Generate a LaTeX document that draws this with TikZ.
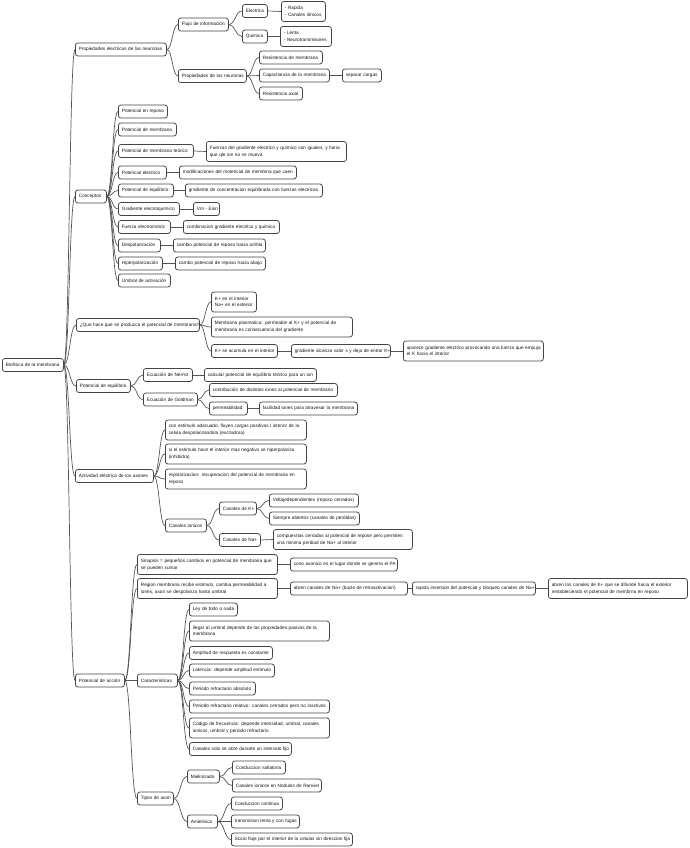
\documentclass[tikz,border=0pt]{standalone}
\usepackage{fontspec}
\setmainfont{Liberation Sans}
\usetikzlibrary{calc}
\definecolor{boxc}{HTML}{444444}
\definecolor{linec}{HTML}{555555}
\definecolor{txtc}{HTML}{151515}
\tikzset{
  box/.style={draw=boxc, line width=0.75pt, rounded corners=2.5pt, fill=white, text=txtc,
    inner xsep=3.5pt, inner ysep=0pt, minimum height=13pt, anchor=west, align=left,
    font=\fontsize{4.7}{6.6}\selectfont},
  sb/.style={box, text width=#1pt, execute at begin node={\leavevmode\hbox\bgroup}, execute at end node={\egroup}},
  tb/.style={box, minimum height=20pt, text width=#1pt},
  conn/.style={draw=linec, line width=0.7pt}
}
\newcommand\mmlink[2]{\draw[conn] let \p1=(#1.east), \p2=(#2.west) in (\p1) .. controls ({0.5*\x1+0.5*\x2},\y1) and ({0.5*\x1+0.5*\x2},\y2) .. (\p2);}
\newcommand\twol[2]{\mbox{#1}\\\mbox{#2}}
\begin{document}
\begin{tikzpicture}[x=1pt,y=-1pt]
\useasboundingbox[fill=white] (0,0) rectangle (690,848);
% root and level 1
\node[sb=54] (root) at (2,365) {Biofisica de la membrana};
\node[sb=84] (p1) at (75,49.5) {Propiedades electricas de las neuronas};
\node[sb=24] (c1) at (75,196.5) {Conceptos};
\node[sb=116] (q1) at (76,325) {¿Que hace que se produzca el potencial de membrana?};
\node[sb=47] (e1) at (76,386) {Potencial de equilibrio};
\node[sb=71] (a1) at (75,476) {Actividad eléctrica de los axones};
\node[sb=42] (pa) at (75,680.5) {Potencial de acción};
% propiedades
\node[sb=43] (flujo) at (178,24.5) {Flujo de información};
\node[sb=18] (elec) at (242,11) {Electrica};
\node[tb=37] (rap) at (281,11.5) {\twol{- Rapida}{- Canales iónicos}};
\node[sb=18] (quim) at (242,36.5) {Quimica};
\node[tb=44] (lenta) at (280,36.5) {\twol{- Lenta}{- Neurotransmisores}};
\node[sb=61] (pdn) at (178,76) {Propiedades de las neuronas};
\node[sb=56] (resm) at (259,57.5) {Resistencia de membrana};
\node[sb=63] (cap) at (259,75.5) {Capacitancia de la membrana};
\node[sb=32] (sep) at (342,75.5) {separar cargas};
\node[sb=36] (resa) at (259,93.5) {Resistencia axial};
% conceptos
\node[sb=42] (k1) at (118,111.5) {Potencial en reposo};
\node[sb=51] (k2) at (118,129.5) {Potencial de membrana};
\node[sb=68] (k3) at (118,151) {Potencial de membrana teórico};
\node[tb=133] (k3a) at (206,151.5) {\twol{Fuerzas del gradiente electrico y químico son iguales, y haria}{que qle ion no se mueva}};
\node[sb=41] (k4) at (118,172.5) {Potencial electrico};
\node[sb=110] (k4a) at (179,172.5) {modificaciones del motencial de membrna que caen};
\node[sb=48] (k5) at (118,190.5) {Potencial de equilibrio};
\node[sb=130] (k5a) at (185,190.5) {gradiente de concentracion equilibrada con fuerzas electricas};
\node[sb=54] (k6) at (118,209) {Gradiente electroquímico};
\node[sb=19] (k6a) at (193,209) {Vm - Eion};
\node[sb=45] (k7) at (118,227) {Fuerza electromotriz};
\node[sb=89] (k7a) at (183,227) {combinacion gradiente electrico y quimico};
\node[sb=35] (k8) at (118,245.5) {Despolarización};
\node[sb=85] (k8a) at (173,245.5) {cambio potencial de reposo hacia arribla};
\node[sb=37] (k9) at (118,263.5) {Hiperpolarización};
\node[sb=83] (k9a) at (175,263.5) {cambo potencial de reposo hacia abajo};
\node[sb=45] (k10) at (118,280.5) {Umbral de activación};
% que hace
\node[tb=38] (q2) at (211,302) {\twol{K+ en el interior}{Na+ en el exterior}};
\node[tb=134] (q3) at (211,327) {\twol{Membrana plasmatica: permeable al K+ y el potencial de}{membrana es consecuencia del gradiente}};
\node[sb=59] (q4) at (211,351) {K+ se acumula en el interior};
\node[sb=92] (q5) at (291,351) {gradiente alcanza valor x y deja de entrar K+};
\node[tb=133] (q6) at (403,351) {\twol{aparece gradiente electrico provocando una fuerza que empuja}{el K hacia el interior}};
% potencial de equilibrio
\node[sb=42] (n1) at (143,375) {Ecuación de Nernst};
\node[sb=105] (n1a) at (204,375) {calcular potencial de equilibrio teórico para un ion};
\node[sb=47] (g1) at (143,399.5) {Ecuación de Goldman};
\node[sb=121] (g1a) at (209,390) {contribución de distintos iones al potencial de membrana};
\node[sb=31] (g1b) at (209,408.5) {permeabilidad};
\node[sb=91] (g1c) at (259,408.5) {facilidad iones para atravesar la membrana};
% actividad
\node[tb=134] (a2) at (165,430) {\twol{con estimulo adecuado, fluyen cargas positivas l interior de la}{celula despolarizandola (excitadora)}};
\node[tb=134] (a3) at (165,454) {\twol{si el estimulo hace el interior mas negativo se hiperpolariza}{(inhibidra)}};
\node[tb=134] (a4) at (165,479) {\twol{repolarizacion: recuperacion del potencial de membrana en}{reposo}};
\node[sb=34] (a5) at (165,525.5) {Canales ionicos};
\node[sb=30] (a6) at (219,508.5) {Canales de K+};
\node[sb=82] (a7) at (269,500.5) {Voltajedependientes (reposo cerrados)};
\node[sb=83] (a8) at (269,518.5) {Siempre abiertos (canales de perdidas)};
\node[sb=34] (a9) at (219,540) {Canales de Na+};
\node[tb=132] (a10) at (273,539.5) {\twol{compuesrtas cerradas al potencial de repose pero permiten}{una minima perdiad de Na+ al interior}};
% potencial de accion
\node[tb=133] (s1) at (137,564.5) {\twol{Sinapsis = pequeños cambios en potencial de membrana que}{se pueden sumar}};
\node[sb=100] (s1a) at (290,564.5) {cono axonico es el lugar donde se genera el PA};
\node[tb=133] (r1) at (137,588.5) {\twol{Region membrana recibe estimulo, cambia permeabilidad a}{iones, axon se despolariza hasta umbral}};
\node[sb=110] (r1a) at (290,588.5) {abren canales de Na+ (bucle de retroactivacion)};
\node[sb=116] (r1b) at (412,588.5) {rapida inversion del potencial y bloqueo canales de Na+};
\node[tb=132] (r1c) at (548,588.5) {\twol{abren los canales de K+ que se difunde hacia el exterior}{restableciendo el potencial de membrna en reposo}};
\node[sb=33] (ch) at (137,680.5) {Caracteristicas};
\node[sb=41] (ch1) at (189,609.5) {Ley de todo o nada};
\node[tb=133] (ch2) at (189,631) {\twol{llegar al umbral depende de las propiedades pasivas de la}{membrana}};
\node[sb=76] (ch3) at (189,653) {Amplitud de respuesta es constante};
\node[sb=78] (ch4) at (189,670.5) {Latencia: depende amplitud estimulo};
\node[sb=59] (ch5) at (189,688.5) {Periodo refractario absoluto};
\node[sb=133] (ch6) at (189,706.5) {Periodo refractario relativo: canales cerrados pero no inactivos};
\node[tb=133] (ch7) at (189,728) {\twol{Codigo de frecuencia: depende intensidad, umbral, canales}{ionicos, umbral y periodo refractario}};
\node[sb=95] (ch8) at (189,749) {Canales solo se abre durante un intervalo fijo};
\node[sb=29] (t1) at (137,798.5) {Tipos de axon};
\node[sb=25] (t2) at (187,776.5) {Mielinizado};
\node[sb=46] (t2a) at (232,767.5) {Conduccion saltatoria};
\node[sb=82] (t2b) at (232,785.5) {Canales ionicos en Nodulos de Ranvier};
\node[sb=23] (t3) at (187,821.5) {Amielinico};
\node[sb=44] (t3a) at (231,803.5) {Conduccion continua};
\node[sb=61] (t3b) at (231,821.5) {transmision lenta y con fugas};
\node[sb=114] (t3c) at (231,839.5) {Socio fluje por el interior de la celulas sin direccion fija};
% links
\foreach \c in {p1,c1,q1,e1,a1,pa} {\mmlink{root}{\c}}
\mmlink{p1}{flujo}\mmlink{p1}{pdn}
\mmlink{flujo}{elec}\mmlink{flujo}{quim}\mmlink{elec}{rap}\mmlink{quim}{lenta}
\mmlink{pdn}{resm}\mmlink{pdn}{cap}\mmlink{pdn}{resa}\mmlink{cap}{sep}
\foreach \c in {k1,k2,k3,k4,k5,k6,k7,k8,k9,k10} {\mmlink{c1}{\c}}
\mmlink{k3}{k3a}\mmlink{k4}{k4a}\mmlink{k5}{k5a}\mmlink{k6}{k6a}\mmlink{k7}{k7a}\mmlink{k8}{k8a}\mmlink{k9}{k9a}
\mmlink{q1}{q2}\mmlink{q1}{q3}\mmlink{q1}{q4}\mmlink{q4}{q5}\mmlink{q5}{q6}
\mmlink{e1}{n1}\mmlink{e1}{g1}\mmlink{n1}{n1a}\mmlink{g1}{g1a}\mmlink{g1}{g1b}\mmlink{g1b}{g1c}
\foreach \c in {a2,a3,a4,a5} {\mmlink{a1}{\c}}
\mmlink{a5}{a6}\mmlink{a5}{a9}\mmlink{a6}{a7}\mmlink{a6}{a8}\mmlink{a9}{a10}
\foreach \c in {s1,r1,ch,t1} {\mmlink{pa}{\c}}
\mmlink{s1}{s1a}\mmlink{r1}{r1a}\mmlink{r1a}{r1b}\mmlink{r1b}{r1c}
\foreach \c in {ch1,ch2,ch3,ch4,ch5,ch6,ch7,ch8} {\mmlink{ch}{\c}}
\mmlink{t1}{t2}\mmlink{t1}{t3}
\mmlink{t2}{t2a}\mmlink{t2}{t2b}
\mmlink{t3}{t3a}\mmlink{t3}{t3b}\mmlink{t3}{t3c}
\end{tikzpicture}
\end{document}
